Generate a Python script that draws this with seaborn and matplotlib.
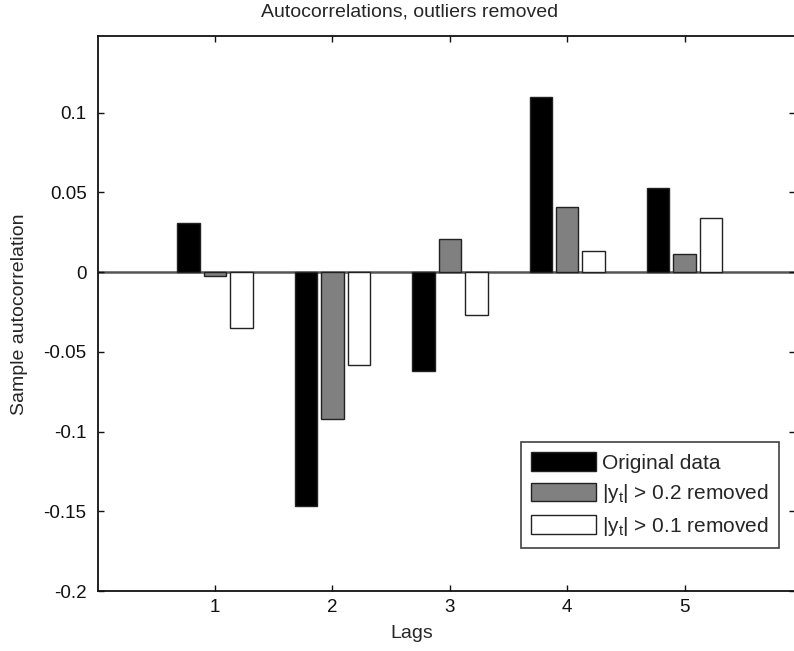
import numpy as np
import pandas as pd
import matplotlib
matplotlib.use("Agg")
import matplotlib.pyplot as plt
import seaborn as sns

lags = [1, 2, 3, 4, 5]
original = [0.031, -0.147, -0.062, 0.110, 0.053]
removed_02 = [-0.0025, -0.092, 0.021, 0.041, 0.011]
removed_01 = [-0.035, -0.058, -0.027, 0.013, 0.034]
series_names = ["Original data",
                r"$|\mathrm{y}_\mathrm{t}|$ > 0.2 removed",
                r"$|\mathrm{y}_\mathrm{t}|$ > 0.1 removed"]
yticks = [-0.2, -0.15, -0.1, -0.05, 0, 0.05, 0.1]
ytick_labels = ["-0.2", "-0.15", "-0.1", "-0.05", "0", "0.05", "0.1"]

sns.set_style("white")
plt.rcParams["font.family"] = ["Liberation Sans", "DejaVu Sans"]
plt.rcParams["mathtext.fontset"] = "custom"
plt.rcParams["mathtext.rm"] = "Liberation Sans"
plt.rcParams["mathtext.it"] = "Liberation Sans"

rows = []
for name, vals in zip(series_names, [original, removed_02, removed_01]):
    for lag, v in zip(lags, vals):
        rows.append({"lag": lag, "value": v, "series": name})
df = pd.DataFrame(rows)

FS = 13.5
FS_T = 14
FS_L = 15
W, H = 794, 651
fig = plt.figure(figsize=(W / 100, H / 100), dpi=100)
fig.patch.set_facecolor("white")
left, right, top, bottom = 97.7, 795.0, 36.0, 591.0
ax = fig.add_axes([left / W, 1 - bottom / H, (right - left) / W, (bottom - top) / H])

sns.barplot(data=df, x="lag", y="value", hue="series", hue_order=series_names,
            native_scale=True, width=0.675, gap=0.15,
            palette=["#000000", "#808080", "#ffffff"],
            edgecolor="#222222", linewidth=1.0, ax=ax, errorbar=None,
            saturation=1.0)

ax.axhline(0, color="#555555", lw=1.8, zorder=0.5)
ax.set_xlim(0, 5.94)
ax.set_ylim(-0.2, 0.148)
ax.set_xticks(lags)
ax.set_xticklabels([str(l) for l in lags])
ax.set_yticks(yticks)
ax.set_yticklabels(ytick_labels)
ax.set_xlabel("")
ax.set_ylabel("")
for s in ax.spines.values():
    s.set_visible(True)
    s.set_color("#111111")
    s.set_linewidth(1.3)
ax.tick_params(direction="in", length=4, width=1, colors="#111111",
               labelsize=FS, top=True, right=True, bottom=True, left=True,
               labelcolor="#111111")
ax.tick_params(axis="y", pad=8)
ax.tick_params(axis="x", pad=6)

fig.text(410 / W, 1 - 12 / H, "Autocorrelations, outliers removed",
         ha="center", va="center", fontsize=FS_T)
fig.text(412 / W, 1 - 633 / H, "Lags", ha="center", va="center", fontsize=FS_T)
fig.text(20 / W, 1 - 314 / H, "Sample autocorrelation", ha="center", va="center",
         rotation=90, fontsize=FS_T)

handles, labels = ax.get_legend_handles_labels()
if ax.get_legend() is not None:
    ax.get_legend().remove()
leg = ax.legend(handles, series_names, loc="upper left",
                bbox_to_anchor=(521 / W, 1 - 442 / H), bbox_transform=fig.transFigure,
                borderaxespad=0, frameon=True, fancybox=False, fontsize=FS_L,
                handlelength=3.12, handleheight=1.0, handletextpad=0.25,
                labelspacing=0.45, borderpad=0.5)
leg.get_frame().set_edgecolor("#111111")
leg.get_frame().set_linewidth(1.2)

fig.savefig("out.png", dpi=100, facecolor="white")
